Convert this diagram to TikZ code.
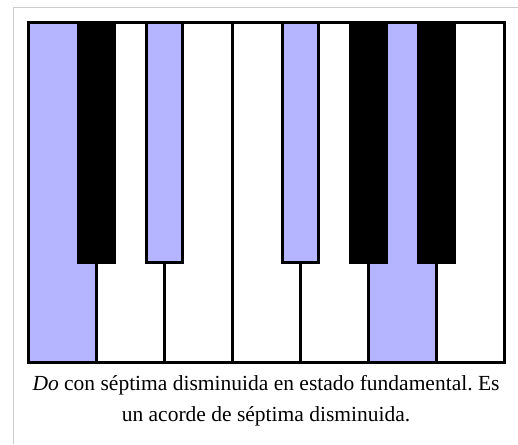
\documentclass[tikz,border=0pt]{standalone}
\usepackage{fontspec}
\setmainfont{Liberation Serif}
\frenchspacing
\definecolor{lavanda}{RGB}{181,181,255}
\definecolor{marco}{RGB}{204,204,204}
\begin{document}
\begin{tikzpicture}[x=1pt,y=-1pt,line width=3pt]
		\useasboundingbox (0,0) rectangle (518,444);
		\fill[color=white] (0,0) rectangle (518,444);
		\draw[color=marco,line width=1pt] (13.5,444) -- (13.5,7.5) -- (518,7.5);
		% teclas blancas
		\foreach \i/\col in {0/lavanda,1/white,2/white,3/white,4/white,5/lavanda,6/white}
			\draw[fill=\col] (28+68*\i,23) rectangle +(68,339);
		% teclas negras
		\foreach \c/\col in {96/black,164/lavanda,300/lavanda,368/black,436/black}
			\draw[fill=\col] (\c-18,23) rectangle (\c+18,262);
		\node[anchor=base,font=\fontsize{21.5}{26}\selectfont] (linea1) at (266,390) {\textit{Do} con séptima disminuida en estado fundamental. Es};
		\node[anchor=base,font=\fontsize{21.5}{26}\selectfont] (linea2) at (266,421) {un acorde de séptima disminuida.};
	\end{tikzpicture}
\end{document}
